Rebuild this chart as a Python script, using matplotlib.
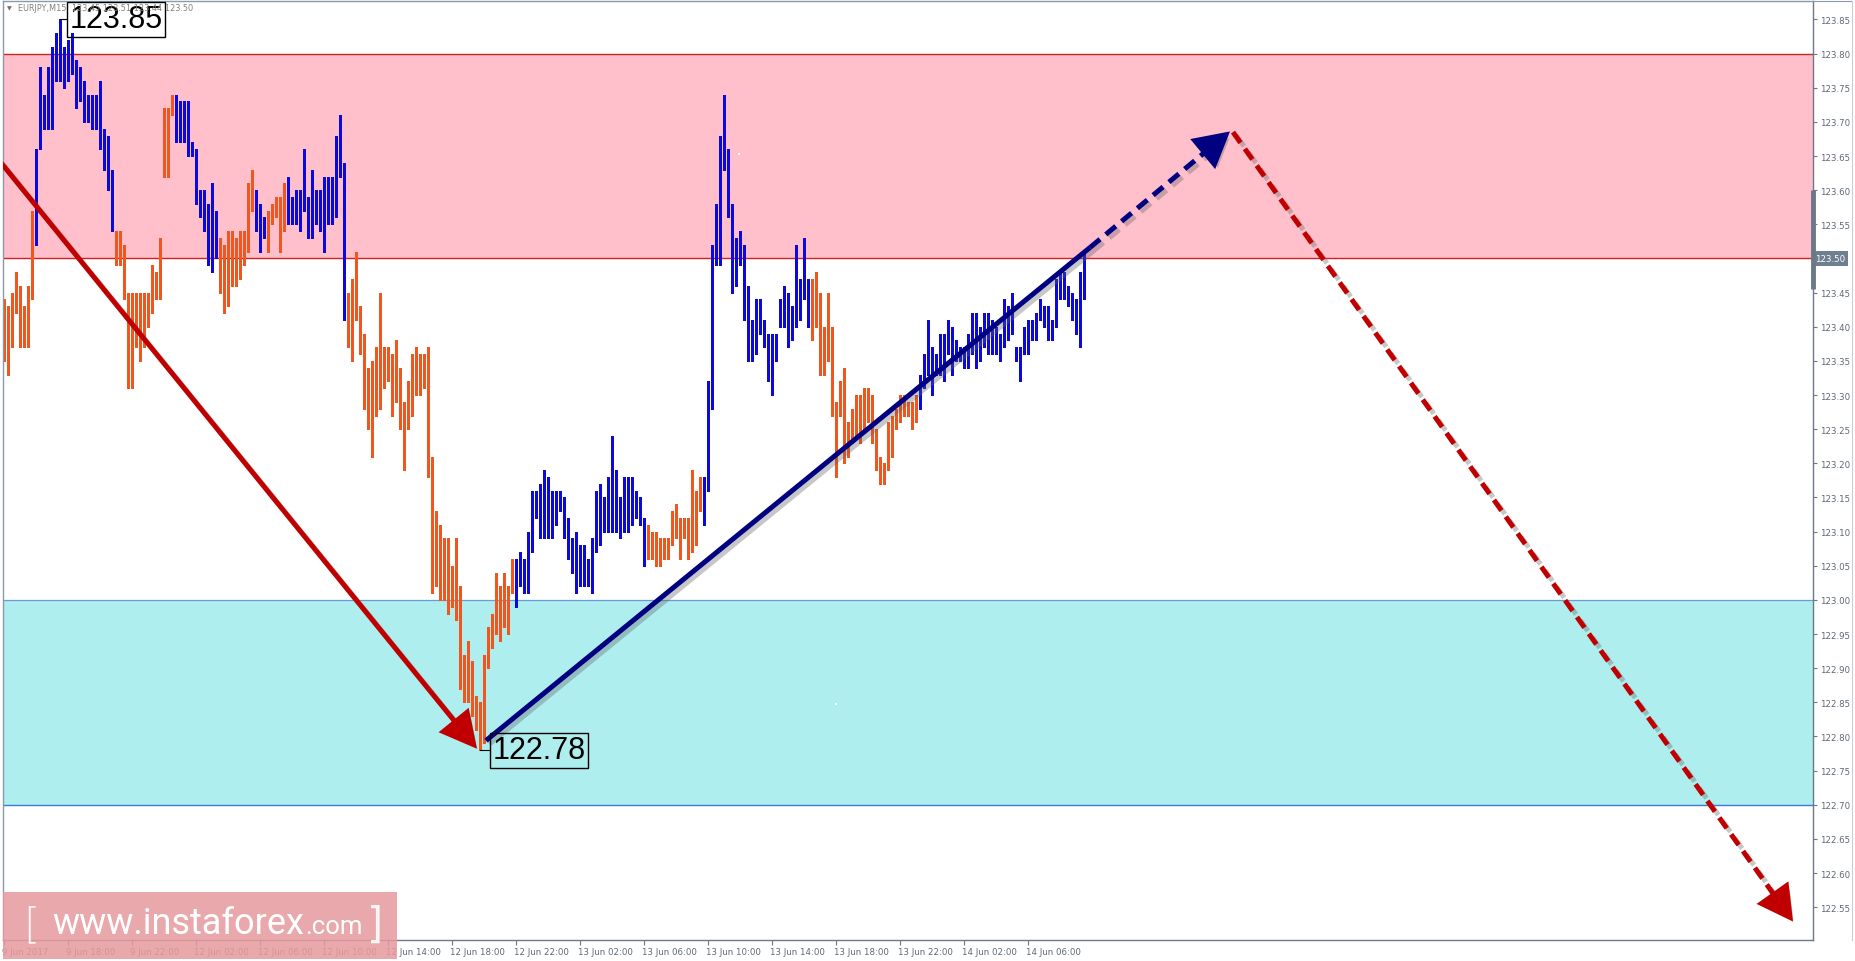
import numpy as np
import matplotlib
matplotlib.use('Agg')
import matplotlib.pyplot as plt
from matplotlib.patches import FancyArrowPatch, Rectangle
import matplotlib.patheffects as pe
from matplotlib.lines import Line2D
import matplotlib.transforms as mtransforms

# ---------------- data ----------------
header_text = "EURJPY,M15  123.45 123.51 123.44 123.50"

highs = [
    123.44, 123.43, 123.45, 123.48, 123.46, 123.43, 123.46, 123.57, 123.66, 123.78,
    123.74, 123.78, 123.81, 123.83, 123.85, 123.81, 123.82, 123.83, 123.79, 123.78,
    123.76, 123.74, 123.74, 123.74, 123.76, 123.69, 123.68, 123.63, 123.54, 123.54,
    123.52, 123.45, 123.45, 123.45, 123.45, 123.45, 123.45, 123.49, 123.48, 123.53,
    123.72, 123.72, 123.74, 123.74, 123.73, 123.73, 123.73, 123.67, 123.66, 123.60,
    123.60, 123.58, 123.61, 123.57, 123.53, 123.52, 123.54, 123.54, 123.53, 123.54,
    123.54, 123.61, 123.63, 123.60, 123.58, 123.56, 123.57, 123.58, 123.59, 123.59,
    123.61, 123.62, 123.59, 123.60, 123.60, 123.66, 123.59, 123.63, 123.60, 123.60,
    123.62, 123.62, 123.62, 123.68, 123.71, 123.64, 123.45, 123.47, 123.51, 123.43,
    123.39, 123.34, 123.35, 123.37, 123.45, 123.37, 123.37, 123.36, 123.38, 123.34,
    123.29, 123.32, 123.36, 123.37, 123.36, 123.36, 123.37, 123.21, 123.13, 123.11,
    123.09, 123.09, 123.05, 123.09, 123.02, 122.92, 122.94, 122.91, 122.86, 122.85,
    122.92, 122.96, 122.98, 123.04, 123.02, 123.04, 123.02, 123.06, 123.06, 123.07,
    123.06, 123.10, 123.16, 123.16, 123.17, 123.19, 123.18, 123.16, 123.16, 123.16,
    123.15, 123.12, 123.09, 123.10, 123.08, 123.08, 123.06, 123.09, 123.16, 123.17,
    123.15, 123.18, 123.24, 123.19, 123.15, 123.18, 123.18, 123.18, 123.16, 123.15,
    123.12, 123.11, 123.10, 123.10, 123.09, 123.09, 123.09, 123.13, 123.14, 123.12,
    123.12, 123.12, 123.19, 123.16, 123.18, 123.18, 123.32, 123.52, 123.58, 123.68,
    123.74, 123.66, 123.58, 123.53, 123.54, 123.52, 123.46, 123.41, 123.44, 123.44,
    123.41, 123.39, 123.39, 123.39, 123.44, 123.46, 123.45, 123.43, 123.52, 123.47,
    123.53, 123.47, 123.47, 123.48, 123.45, 123.40, 123.45, 123.40, 123.29, 123.32,
    123.34, 123.26, 123.28, 123.30, 123.30, 123.31, 123.31, 123.30, 123.25, 123.21,
    123.20, 123.26, 123.27, 123.28, 123.30, 123.30, 123.29, 123.29, 123.30, 123.33,
    123.36, 123.41, 123.37, 123.36, 123.39, 123.39, 123.41, 123.40, 123.38, 123.37,
    123.37, 123.39, 123.42, 123.42, 123.40, 123.42, 123.42, 123.41, 123.40, 123.39,
    123.44, 123.43, 123.45, 123.37, 123.37, 123.40, 123.41, 123.41, 123.42, 123.44,
    123.43, 123.43, 123.41, 123.47, 123.48, 123.48, 123.46, 123.45, 123.44, 123.48,
    123.51,
]
lows = [
    123.35, 123.33, 123.37, 123.42, 123.37, 123.37, 123.37, 123.44, 123.52, 123.66,
    123.69, 123.69, 123.69, 123.76, 123.76, 123.75, 123.76, 123.77, 123.72, 123.73,
    123.70, 123.70, 123.69, 123.69, 123.66, 123.63, 123.60, 123.54, 123.49, 123.49,
    123.44, 123.31, 123.31, 123.37, 123.35, 123.37, 123.40, 123.42, 123.44, 123.44,
    123.62, 123.62, 123.71, 123.67, 123.67, 123.67, 123.65, 123.65, 123.58, 123.56,
    123.54, 123.49, 123.48, 123.50, 123.45, 123.42, 123.43, 123.46, 123.46, 123.47,
    123.49, 123.51, 123.57, 123.54, 123.51, 123.53, 123.51, 123.55, 123.56, 123.51,
    123.54, 123.55, 123.55, 123.55, 123.54, 123.57, 123.53, 123.53, 123.55, 123.54,
    123.51, 123.55, 123.55, 123.56, 123.62, 123.41, 123.37, 123.35, 123.41, 123.36,
    123.28, 123.25, 123.21, 123.27, 123.28, 123.31, 123.32, 123.27, 123.29, 123.25,
    123.19, 123.25, 123.27, 123.30, 123.30, 123.31, 123.18, 123.01, 123.02, 123.00,
    123.00, 122.98, 122.99, 122.97, 122.87, 122.85, 122.85, 122.83, 122.81, 122.78,
    122.79, 122.90, 122.93, 122.95, 122.94, 122.96, 122.95, 123.01, 122.99, 123.02,
    123.01, 123.01, 123.07, 123.12, 123.09, 123.09, 123.09, 123.09, 123.11, 123.13,
    123.09, 123.06, 123.04, 123.01, 123.02, 123.02, 123.02, 123.01, 123.07, 123.08,
    123.10, 123.10, 123.10, 123.10, 123.09, 123.10, 123.10, 123.11, 123.12, 123.11,
    123.05, 123.06, 123.06, 123.05, 123.05, 123.06, 123.06, 123.08, 123.09, 123.06,
    123.09, 123.06, 123.07, 123.08, 123.13, 123.11, 123.16, 123.28, 123.49, 123.49,
    123.63, 123.56, 123.45, 123.46, 123.49, 123.41, 123.35, 123.35, 123.36, 123.39,
    123.37, 123.32, 123.30, 123.35, 123.40, 123.40, 123.37, 123.38, 123.40, 123.41,
    123.44, 123.40, 123.38, 123.40, 123.33, 123.33, 123.35, 123.27, 123.18, 123.27,
    123.20, 123.21, 123.23, 123.24, 123.23, 123.25, 123.26, 123.23, 123.19, 123.17,
    123.17, 123.19, 123.21, 123.25, 123.26, 123.27, 123.27, 123.25, 123.26, 123.28,
    123.31, 123.33, 123.30, 123.33, 123.33, 123.32, 123.36, 123.33, 123.35, 123.35,
    123.34, 123.34, 123.36, 123.34, 123.35, 123.37, 123.36, 123.36, 123.36, 123.35,
    123.37, 123.38, 123.39, 123.35, 123.32, 123.36, 123.36, 123.38, 123.38, 123.41,
    123.40, 123.38, 123.38, 123.40, 123.44, 123.44, 123.43, 123.41, 123.39, 123.37,
    123.44,
]
# trend colouring of the bars: (direction, number of bars)
trend_runs = [('d', 8), ('u', 20), ('d', 15), ('u', 11), ('d', 9), ('u', 3), ('d', 5),
              ('u', 15), ('d', 42), ('u', 33), ('d', 14), ('u', 27), ('d', 27), ('u', 42)]

time_labels = ["9 Jun 2017", "9 Jun 18:00", "9 Jun 22:00", "12 Jun 02:00", "12 Jun 06:00",
               "12 Jun 10:00", "12 Jun 14:00", "12 Jun 18:00", "12 Jun 22:00", "13 Jun 02:00",
               "13 Jun 06:00", "13 Jun 10:00", "13 Jun 14:00", "13 Jun 18:00", "13 Jun 22:00",
               "14 Jun 02:00", "14 Jun 06:00"]
time_tick_bars = [1, 17, 33, 49, 65, 81, 97, 113, 129, 145, 161, 177, 193, 209, 225, 241, 257]

price_ticks = [122.55, 122.60, 122.65, 122.70, 122.75, 122.80, 122.85, 122.90, 122.95, 123.00,
               123.05, 123.10, 123.15, 123.20, 123.25, 123.30, 123.35, 123.40, 123.45, 123.50,
               123.55, 123.60, 123.65, 123.70, 123.75, 123.80, 123.85]
current_price = 123.50

resistance_zone = (123.50, 123.80)
support_zone = (122.70, 123.00)

high_label = (15, 123.85)
low_label = (120, 122.78)

wave_down = [(0.0, 123.642), (119.25, 122.782)]
wave_up = [(121.5, 122.794), (272.5, 123.516)]
forecast_up = [(272.5, 123.516), (307.5, 123.686)]
forecast_down = [(308.25, 123.685), (448.25, 122.529)]

stray_points_x = [184.75, 209.0]
stray_points_y = [123.653, 122.848]

# ---------------- figure ----------------
W, H = 1856, 962
fig = plt.figure(figsize=(W / 100, H / 100), dpi=100)
fig.patch.set_facecolor('white')
ax_l, ax_r, ax_t, ax_b = 3, 1813, 2, 941
ax = fig.add_axes([ax_l / W, (H - ax_b) / H, (ax_r - ax_l) / W, (ax_b - ax_t) / H])
ax.set_xlim(ax_l / 4, ax_r / 4)
ax.set_ylim(122.502, 123.877)
ax.set_facecolor('white')

grey = '#6B7887'
for s in ['left', 'top']:
    ax.spines[s].set_color('#8C99A6')
    ax.spines[s].set_linewidth(1.0)
for s in ['right', 'bottom']:
    ax.spines[s].set_color(grey)
    ax.spines[s].set_linewidth(1.0)

# zones
ax.axhspan(*resistance_zone, facecolor='#FFC0CB', edgecolor='none', zorder=0)
ax.axhline(resistance_zone[0], color='#D22020', lw=1.0, zorder=1)
ax.axhline(resistance_zone[1], color='#D22020', lw=1.0, zorder=1)
ax.axhspan(*support_zone, facecolor='#AFEEEE', edgecolor='none', zorder=0)
ax.axhline(support_zone[0], color='#3A7BD5', lw=1.0, zorder=1)
ax.axhline(support_zone[1], color='#6A9AD8', lw=0.9, zorder=1)

# bars
colors = []
for d, n in trend_runs:
    colors += [('#0A0ADC' if d == 'u' else '#F0561E')] * n
idx = np.arange(1, len(highs) + 1)
ax.vlines(idx, lows, highs, colors=colors, lw=1.85, zorder=2, antialiased=False)

ax.scatter(stray_points_x, stray_points_y, s=3, marker='s', color='white', zorder=2.5, linewidths=0)

# arrows
shadow = [pe.SimpleLineShadow(offset=(2.5, -2.5), shadow_color='#606060', alpha=0.35), pe.Normal()]
pshadow = [pe.SimplePatchShadow(offset=(2.5, -2.5), shadow_rgbFace='#606060', alpha=0.35), pe.Normal()]

red = '#C00000'
navy = '#000080'
lw_arrow = 3.6

def head(p_from, p_to, color, hl=1.05, hw=0.55):
    # short solid segment that carries the arrow head at p_to
    a = ax.transData.transform(p_from)
    b = ax.transData.transform(p_to)
    v = b - a
    L = np.hypot(*v)
    c = b - v / L * 36.0
    c_data = ax.transData.inverted().transform(c)
    arr = FancyArrowPatch(tuple(c_data), tuple(p_to),
                          arrowstyle='-|>,head_length=%.2f,head_width=%.2f' % (hl, hw),
                          mutation_scale=20, color=color, lw=lw_arrow, zorder=5,
                          shrinkA=0, shrinkB=0, joinstyle='miter', capstyle='butt')
    arr.set_path_effects(pshadow)
    ax.add_patch(arr)
    return c_data

def shortened(p_from, p_to, px):
    a = ax.transData.transform(p_from)
    b = ax.transData.transform(p_to)
    v = b - a
    L = np.hypot(*v)
    return ax.transData.inverted().transform(b - v / L * px)

# red solid wave down
end = shortened(wave_down[0], wave_down[1], 18)
ax.plot([wave_down[0][0], end[0]], [wave_down[0][1], end[1]], color=red, lw=lw_arrow,
        solid_capstyle='butt', zorder=4, path_effects=shadow)
head(wave_down[0], wave_down[1], red, hl=1.05, hw=0.55)

# navy solid wave up
ax.plot([p[0] for p in wave_up], [p[1] for p in wave_up], color=navy, lw=lw_arrow,
        solid_capstyle='butt', zorder=4, path_effects=shadow)

# navy dashed forecast
end = shortened(forecast_up[0], forecast_up[1], 18)
ax.plot([forecast_up[0][0], end[0]], [forecast_up[0][1], end[1]], color=navy, lw=lw_arrow,
        linestyle=(0, (2.6, 1.5)), dash_capstyle='butt', zorder=4, path_effects=shadow)
head(forecast_up[0], forecast_up[1], navy, hl=1.0, hw=0.55)

# red dashed forecast
end = shortened(forecast_down[0], forecast_down[1], 18)
ax.plot([forecast_down[0][0], end[0]], [forecast_down[0][1], end[1]], color=red, lw=lw_arrow,
        linestyle=(0, (2.6, 1.5)), dash_capstyle='butt', zorder=4, path_effects=shadow)
head(forecast_down[0], forecast_down[1], red, hl=1.0, hw=0.55)

# extreme labels
for (bx, py), dx in [(high_label, 1.75), (low_label, 2.6)]:
    ax.plot([bx, bx + dx], [py, py], color='black', lw=0.8, zorder=6)
    ax.text(bx + dx + 0.6, py, '%.2f' % py, ha='left', va='center', fontsize=22,
            family='Liberation Sans', color='black', zorder=6,
            bbox=dict(boxstyle='square,pad=0.08', fc='none', ec='black', lw=1.0))

# y axis on right
ax.yaxis.tick_right()
ax.set_yticks(price_ticks)
ax.set_yticklabels(['' if abs(p - current_price) < 1e-9 else '%.2f' % p for p in price_ticks])
ax.tick_params(axis='y', direction='out', length=3, width=0.8, color=grey, pad=2,
               labelsize=6.2, labelcolor='#5E6873')
ax.text(1.0 + 2 / (ax_r - ax_l), current_price, '%.2f' % current_price,
        transform=mtransforms.blended_transform_factory(ax.transAxes, ax.transData),
        ha='left', va='center', fontsize=6.2, color='white', zorder=7, clip_on=False,
        bbox=dict(boxstyle='square,pad=0.35', fc='#6E7F90', ec='none'))
# scale marker on price axis
ax.plot([1.0, 1.0], [123.455, 123.60], color=grey, lw=3.5, zorder=7, clip_on=False,
        transform=mtransforms.blended_transform_factory(ax.transAxes, ax.transData),
        solid_capstyle='butt')

# x axis
ax.set_xticks(time_tick_bars)
ax.set_xticklabels(time_labels, ha='left')
ax.tick_params(axis='x', direction='out', length=3.5, width=0.8, color=grey, pad=1.5,
               labelsize=6.2, labelcolor='#5E6873')
offset = mtransforms.ScaledTranslation(-2 / 100, 0, fig.dpi_scale_trans)
for lab in ax.get_xticklabels():
    lab.set_transform(lab.get_transform() + offset)

# header
fig.text(7 / W, 1 - 9 / H, '\u25bc', fontsize=4.5, color='#707070', va='center', ha='left')
fig.text(18 / W, 1 - 8.5 / H, header_text, fontsize=5.9, color='#808080', va='center', ha='left')

# frame of the window
fig.add_artist(Line2D([ax_r / W, 1852 / W], [1 - 1.5 / H, 1 - 1.5 / H], color='#8C99A6', lw=0.8))
fig.add_artist(Line2D([1852 / W, 1852 / W], [1 - 1.5 / H, (H - ax_b) / H], color='#C8CED4', lw=0.8))

# watermark
fig.add_artist(Rectangle((3 / W, (H - 960) / H), (397 - 3) / W, (960 - 893) / H,
                         transform=fig.transFigure, facecolor='#E69A9E', alpha=0.85,
                         edgecolor='none', zorder=10))
renderer = fig.canvas.get_renderer()
fig.text(23 / W, 1 - 926 / H, '[', fontsize=30, color='white', family='DejaVu Sans',
         va='center', ha='left', zorder=11, alpha=0.9, fontweight='light')
t_main = fig.text(52 / W, 1 - 934 / H, 'www.instaforex', fontsize=26, color='white',
                  family='Roboto', va='baseline', ha='left', zorder=11)
bb = t_main.get_window_extent(renderer)
t_com = fig.text((bb.x1 + 1) / W, 1 - 934 / H, '.com', fontsize=18.5, color='white',
                 family='Roboto', va='baseline', ha='left', zorder=11)
bb2 = t_com.get_window_extent(renderer)
fig.text((bb2.x1 + 5) / W, 1 - 926 / H, ']', fontsize=30, color='white', family='DejaVu Sans',
         va='center', ha='left', zorder=11, alpha=0.9)

fig.savefig('out.png', dpi=100, facecolor='white')
